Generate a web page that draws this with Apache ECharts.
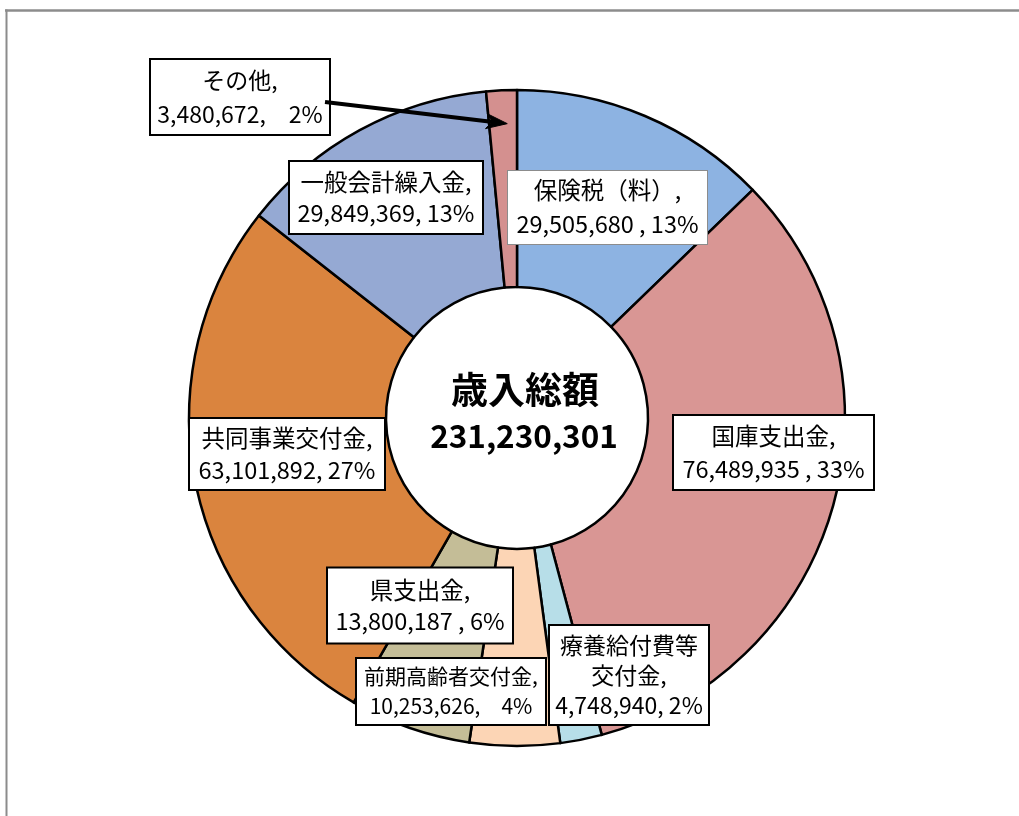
<!DOCTYPE html>
<html><head><meta charset="utf-8">
<script src="https://cdn.jsdelivr.net/npm/echarts@6/dist/echarts.min.js"></script>
<style>html,body{margin:0;padding:0;background:#fff}#c{width:1019px;height:816px}</style>
</head><body><div id="c"></div>
<script>
const categories = ['保険税（料）','国庫支出金','療養給付費等交付金','前期高齢者交付金','県支出金','共同事業交付金','一般会計繰入金','その他'];
const values = [29505680, 76489935, 4748940, 10253626, 13800187, 63101892, 29849369, 3480672];
const colors = ['#8DB3E2','#D99694','#B7DEE8','#FCD5B5','#C4BD97','#DA843E','#95A9D3','#D4908F'];
const valueSeparators = [' , ', ' , ', ', ', ',\u3000', ' , ', ', ', ', ', ',\u3000'];
const centerTitle = '歳入総額';

// label box layout (centre, width, line height, vertical padding, font size)
const labelBoxes = [
  {cx: 607.5, cy: 207.5, w: 199, lh: 34, pv: 2.5, fs: 23.5, bc: '#8c8c8c', bw: 1},
  {cx: 773.5, cy: 452.5, w: 199, lh: 33, pv: 3.5, fs: 23.5},
  {cx: 629,   cy: 675,   w: 158, lh: 30, pv: 4,   fs: 23},
  {cx: 451,   cy: 691.5, w: 188, lh: 30, pv: 2.5, fs: 21},
  {cx: 420,   cy: 605.5, w: 184, lh: 31, pv: 6,   fs: 23.5},
  {cx: 287,   cy: 454,   w: 194, lh: 32, pv: 3,   fs: 23.5},
  {cx: 386,   cy: 197.5, w: 192, lh: 31, pv: 4.5, fs: 23.5},
  {cx: 240,   cy: 97,    w: 178, lh: 34, pv: 3,   fs: 23}
];

const FONT = '"Noto Sans CJK JP", "Noto Sans", sans-serif';
const total = values.reduce((a, b) => a + b, 0);
const labelNames = categories.map(n => n === '療養給付費等交付金' ? '療養給付費等\n交付金' : n);

const seriesData = categories.map((name, i) => {
  const b = labelBoxes[i];
  return {
    name: name,
    value: values[i],
    itemStyle: {color: colors[i]},
    label: {
      width: b.w,
      lineHeight: b.lh,
      padding: [b.pv, 0, b.pv, 0],
      fontSize: b.fs,
      borderColor: b.bc || '#000',
      borderWidth: b.bw || 2
    }
  };
});

const baseGraphics = [
  {type: 'line', shape: {x1: 5, y1: 10.5, x2: 1019, y2: 10.5}, style: {stroke: '#8c8c8c', lineWidth: 2.5}, z: 100},
  {type: 'line', shape: {x1: 6.5, y1: 9.5, x2: 6.5, y2: 816}, style: {stroke: '#8c8c8c', lineWidth: 2}, z: 100},
  {type: 'text', x: 525, y: 390, z: 100, style: {text: centerTitle, font: 'bold 37px ' + FONT, fill: '#000', textAlign: 'center', textVerticalAlign: 'middle'}},
  {type: 'text', x: 524, y: 436, z: 100, style: {text: total.toLocaleString('en-US'), font: 'bold 31.5px ' + FONT, fill: '#000', textAlign: 'center', textVerticalAlign: 'middle'}}
];

const chart = echarts.init(document.getElementById('c'));
const option = {
  animation: false,
  backgroundColor: '#fff',
  graphic: baseGraphics,
  series: [{
    type: 'pie',
    center: [517, 418],
    radius: [131, 328],
    startAngle: 90,
    clockwise: true,
    avoidLabelOverlap: false,
    emphasis: {disabled: true},
    itemStyle: {borderColor: '#000', borderWidth: 2.5},
    label: {
      show: true,
      position: 'inside',
      color: '#000',
      fontFamily: FONT,
      backgroundColor: '#fff',
      align: 'center',
      formatter: function (p) {
        const pct = Math.round(p.value / total * 100);
        return labelNames[p.dataIndex] + ',\n' + p.value.toLocaleString('en-US') + valueSeparators[p.dataIndex] + pct + '%';
      }
    },
    labelLine: {show: false},
    labelLayout: function (p) {
      const b = labelBoxes[p.dataIndex];
      return {x: b.cx, y: b.cy, align: 'center', verticalAlign: 'middle'};
    },
    data: seriesData
  }]
};
chart.setOption(option);

// arrow from the "その他" label to its slice
try {
  const data = chart.getModel().getSeriesByIndex(0).getData();
  const idx = categories.indexOf('その他');
  const lay = data.getItemLayout(idx);
  if (lay) {
    const a = lay.startAngle + 0.65 * (lay.endAngle - lay.startAngle);
    const rt = lay.r0 + 0.83 * (lay.r - lay.r0);
    const tip = [lay.cx + rt * Math.cos(a), lay.cy + rt * Math.sin(a)];
    const b = labelBoxes[idx];
    const start = [b.cx + b.w / 2 - 4, b.cy + 5];
    const dx = tip[0] - start[0], dy = tip[1] - start[1];
    const L = Math.sqrt(dx * dx + dy * dy);
    const u = [dx / L, dy / L], n = [-u[1], u[0]];
    const P = (s, t) => [tip[0] - s * u[0] + t * n[0], tip[1] - s * u[1] + t * n[1]];
    const arrow = [
      {type: 'polyline', z: 120, shape: {points: [start, P(12, 0)]}, style: {stroke: '#000', lineWidth: 4, fill: null}},
      {type: 'polygon', z: 121, shape: {points: [tip, P(21, 7.5), P(15, 0), P(21, -7.5)]}, style: {fill: '#000', stroke: '#000', lineWidth: 1, lineJoin: 'miter'}}
    ];
    chart.setOption({graphic: baseGraphics.concat(arrow)});
  }
} catch (e) { console.error(e); }
</script>
</body></html>
